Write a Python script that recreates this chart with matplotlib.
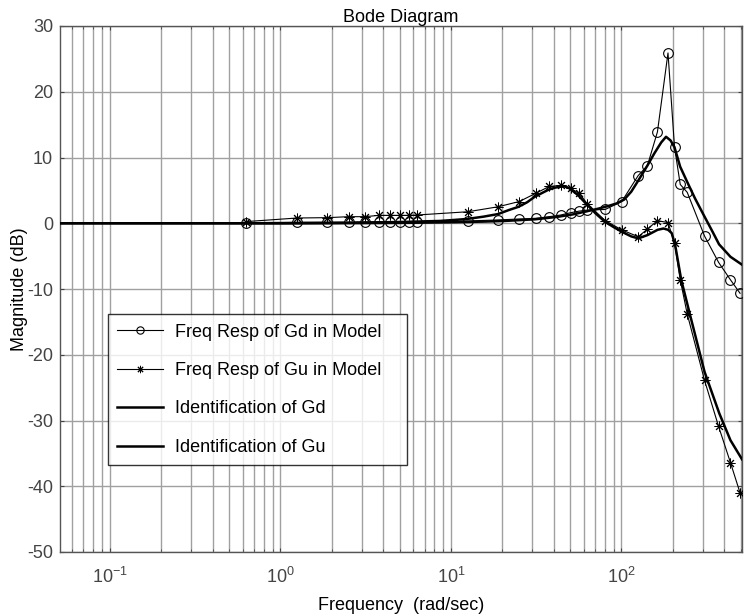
import numpy as np
import matplotlib.pyplot as plt
from matplotlib.ticker import LogLocator, FixedLocator

plt.rcParams['font.family'] = ['Liberation Sans', 'DejaVu Sans']
plt.rcParams['axes.unicode_minus'] = False

# ---------------------------------------------
# Frequency points of the model (rad/sec)
# ---------------------------------------------
w_model = [0.628, 1.257, 1.885, 2.513, 3.142, 3.770, 4.398, 5.027, 5.655, 6.283,
           12.57, 18.85, 25.13, 31.42, 37.70, 43.98, 50.27, 56.55, 62.83, 80.3,
           100.3, 125.3, 141.9, 162.5, 187.4, 204.7, 221.1, 243.0, 307.0, 371.0,
           435.5, 495.7]

# magnitude (dB) of Gd and Gu in the model
mag_gd_model = [0.1, 0.15, 0.15, 0.15, 0.2, 0.2, 0.2, 0.25, 0.25, 0.25,
                0.35, 0.5, 0.65, 0.75, 1.0, 1.25, 1.6, 1.85, 2.0, 2.1,
                3.3, 7.25, 8.75, 13.9, 25.9, 11.55, 5.9, 4.7, -1.95, -5.95,
                -8.6, -10.65]
mag_gu_model = [0.25, 0.8, 0.85, 1.0, 1.0, 1.2, 1.2, 1.2, 1.2, 1.25,
                1.75, 2.5, 3.3, 4.55, 5.6, 5.75, 5.3, 4.55, 3.0, 0.4,
                -1.0, -2.05, -0.9, 0.4, 0.1, -3.0, -8.6, -13.8, -23.9, -30.9,
                -36.4, -41.0]

# ---------------------------------------------
# Identified frequency responses
# ---------------------------------------------
w_id_gd = [0.051, 2.0, 5.0, 10.4, 15.5, 20.7, 31.1, 41.5, 51.9, 62.2, 72.6, 83.0,
           93.3, 103.7, 114.1, 125.5, 142.1, 155.6, 171.1, 182.5, 193.9, 204.3,
           220.9, 242.7, 269.6, 307.0, 342.2, 373.3, 435.5, 509.0]
mag_id_gd = [0.0, 0.0, 0.05, 0.15, 0.25, 0.35, 0.6, 0.95, 1.35, 1.8, 2.2, 2.6,
             3.0, 3.6, 4.8, 6.5, 8.8, 10.6, 12.3, 13.15, 12.6, 11.6,
             8.6, 6.3, 3.8, 1.0, -1.3, -3.2, -5.1, -6.3]

w_id_gu = [0.051, 1.04, 3.1, 5.2, 8.6, 10.4, 12.4, 15.5, 18.9, 21.8, 24.9, 28.0,
           30.9, 34.2, 37.0, 40.4, 43.8, 46.7, 49.6, 55.5, 61.9, 70.5, 79.8,
           90.2, 100.6, 114.1, 125.5, 142.1, 162.8, 176.3, 187.7, 197.0, 206.4,
           224.0, 251.0, 307.0, 374.4, 435.5, 509.0]
mag_id_gu = [0.0, 0.0, 0.1, 0.2, 0.35, 0.5, 0.65, 1.0, 1.4, 2.0, 2.5, 3.2,
             4.0, 4.6, 5.05, 5.4, 5.55, 5.6, 5.3, 4.3, 3.0, 1.5, 0.25,
             -0.6, -1.3, -2.0, -2.3, -1.8, -1.0, -0.8, -1.0, -1.5, -3.3,
             -8.6, -13.7, -22.6, -28.9, -33.0, -35.9]

yticks = [-50, -40, -30, -20, -10, 0, 10, 20, 30]

fig = plt.figure(figsize=(7.47, 6.16), dpi=100)
ax = fig.add_axes([60 / 747, 64 / 616, 682 / 747, 526 / 616])

ax.plot(w_model, mag_gd_model, '-', color='black', lw=0.8, marker='o',
        markersize=7, markerfacecolor='none', markeredgewidth=0.8,
        label='Freq Resp of Gd in Model', zorder=4)
ax.plot(w_model, mag_gu_model, '-', color='black', lw=0.8, marker=(8, 2, 0),
        markersize=7, markeredgewidth=0.7,
        label='Freq Resp of Gu in Model', zorder=4)
ax.plot(w_id_gd, mag_id_gd, '-', color='black', lw=1.8,
        label='Identification of Gd', zorder=3)
ax.plot(w_id_gu, mag_id_gu, '-', color='black', lw=1.8,
        label='Identification of Gu', zorder=3)

ax.set_xscale('log')
ax.set_xlim(0.051, 509)
ax.set_ylim(-50, 30)
ax.yaxis.set_major_locator(FixedLocator(yticks))
ax.xaxis.set_major_locator(LogLocator(base=10, numticks=10))
ax.xaxis.set_minor_locator(LogLocator(base=10, subs=np.arange(2, 10), numticks=20))

ax.grid(True, which='major', color='#a0a0a0', lw=1.0)
ax.grid(True, which='minor', axis='x', color='#a0a0a0', lw=1.0)
ax.set_axisbelow(True)

ax.tick_params(which='both', direction='in', top=True, right=True,
               colors='#444444', labelsize=13)
ax.tick_params(axis='x', which='major', pad=11)
ax.tick_params(axis='y', which='major', pad=5)
ax.tick_params(which='major', length=3)
ax.tick_params(which='minor', length=2)
for s in ax.spines.values():
    s.set_color('#555555')
    s.set_linewidth(1.0)

ax.set_title('Bode Diagram', fontsize=13, pad=2)
ax.set_xlabel('Frequency  (rad/sec)', fontsize=13, labelpad=7)
ax.set_ylabel('Magnitude (dB)', fontsize=13, labelpad=-1)

leg = ax.legend(loc='lower left', bbox_to_anchor=(0.0704, 0.1654, 0.4384, 0.28),
                mode='expand', borderaxespad=0, fontsize=13, frameon=True,
                fancybox=False, edgecolor='black', handlelength=2.55,
                handletextpad=0.65, labelspacing=1.19, borderpad=0.5,
                numpoints=1, markerscale=0.75)
leg.get_frame().set_linewidth(1.0)

fig.savefig('out.png', dpi=100)
